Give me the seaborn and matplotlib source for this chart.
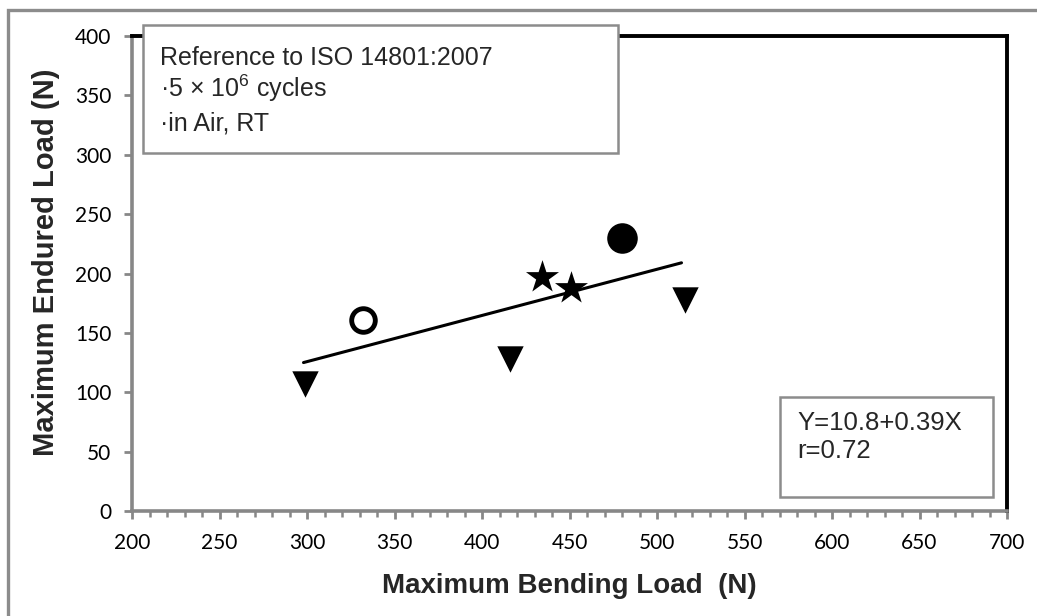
import matplotlib
matplotlib.use('Agg')
import matplotlib.pyplot as plt
from matplotlib.patches import Rectangle
from matplotlib.ticker import MultipleLocator
import seaborn as sns

# data
open_circle_x = [332]
open_circle_y = [161]
filled_circle_x = [480]
filled_circle_y = [230]
star_x = [434, 451]
star_y = [197, 188]
triangle_x = [299, 416, 516]
triangle_y = [107, 128, 178]
fit_x = [298, 514]
fit_y = [125, 209]

x_ticks = [200, 250, 300, 350, 400, 450, 500, 550, 600, 650, 700]
y_ticks = [0, 50, 100, 150, 200, 250, 300, 350, 400]

box1_lines = ['Reference to ISO 14801:2007',
              r'·5 × 10$^{\mathregular{6}}$ cycles',
              '·in Air, RT']
box2_lines = ['Y=10.8+0.39X', 'r=0.72']

sns.set_style('white')
plt.rcParams['font.family'] = ['Liberation Sans', 'DejaVu Sans']
plt.rcParams['mathtext.fontset'] = 'custom'
plt.rcParams['mathtext.rm'] = 'Liberation Sans'
plt.rcParams['mathtext.default'] = 'regular'

W, H = 1037, 616
fig = plt.figure(figsize=(W / 100, H / 100), dpi=100)
ax = fig.add_axes([132 / W, 1 - 511 / H, (1007 - 132) / W, (511 - 36) / H])

gray = '#878787'

sns.lineplot(x=fit_x, y=fit_y, ax=ax, color='black', linewidth=2.2)
sns.scatterplot(x=triangle_x, y=triangle_y, ax=ax, marker='v', s=19**2,
                color='black', edgecolor='black', linewidth=0)
sns.scatterplot(x=star_x, y=star_y, ax=ax, marker='*', s=25**2,
                color='black', edgecolor='black', linewidth=0)
sns.scatterplot(x=filled_circle_x, y=filled_circle_y, ax=ax, marker='o',
                s=22**2, color='black', edgecolor='black', linewidth=0)
sns.scatterplot(x=open_circle_x, y=open_circle_y, ax=ax, marker='o',
                s=17**2, facecolor='white', edgecolor='black', linewidth=3.5)

ax.set_xlim(200, 700)
ax.set_ylim(0, 400)
ax.set_xticks(x_ticks)
ax.set_yticks(y_ticks)
ax.xaxis.set_minor_locator(MultipleLocator(10))

for s in ['left', 'bottom']:
    ax.spines[s].set_color(gray)
    ax.spines[s].set_linewidth(2.6)
for s in ['top', 'right']:
    ax.spines[s].set_color('black')
    ax.spines[s].set_linewidth(2.8)

ax.tick_params(axis='both', which='major', direction='out', length=6,
               width=2, color=gray, labelsize=15, labelcolor='black',
               left=True, bottom=True)
ax.tick_params(axis='y', which='major', pad=9)
ax.tick_params(axis='x', which='major', pad=10)
ax.tick_params(axis='x', which='minor', direction='out', length=4,
               width=1.8, color=gray, bottom=True)
for lab in ax.get_xticklabels() + ax.get_yticklabels():
    lab.set_family('Lato')

ax.set_xlabel('Maximum Bending Load  (N)', fontsize=20, fontweight='bold',
              labelpad=14)
ax.set_ylabel('Maximum Endured Load (N)', fontsize=21, fontweight='bold')
ax.yaxis.set_label_coords((60 - 132) / (1007 - 132), (511 - 262) / (511 - 36))

# outer frame (cropped on the right and bottom)
fig.add_artist(Rectangle((8 / W, -0.1), 1.2, 1.1 - 10 / H,
                         transform=fig.transFigure, fill=False,
                         edgecolor='#8c8c8c', linewidth=2.4))

# annotation boxes
fig.add_artist(Rectangle((143 / W, 1 - 153 / H), (618 - 143) / W, (153 - 25) / H,
                         transform=fig.transFigure, facecolor='white',
                         edgecolor='#8c8c8c', linewidth=1.8, zorder=3))
for i, line in enumerate(box1_lines):
    fig.text(160 / W, 1 - (65 + 32.5 * i) / H, line, fontsize=18,
             va='baseline', ha='left', zorder=4)

fig.add_artist(Rectangle((780 / W, 1 - 497 / H), (993 - 780) / W, (497 - 397) / H,
                         transform=fig.transFigure, facecolor='white',
                         edgecolor='#8c8c8c', linewidth=1.8, zorder=3))
for i, line in enumerate(box2_lines):
    fig.text(797 / W, 1 - (430 + 28 * i) / H, line, fontsize=18.5,
             va='baseline', ha='left', zorder=4)

fig.savefig('out.png', dpi=100)
